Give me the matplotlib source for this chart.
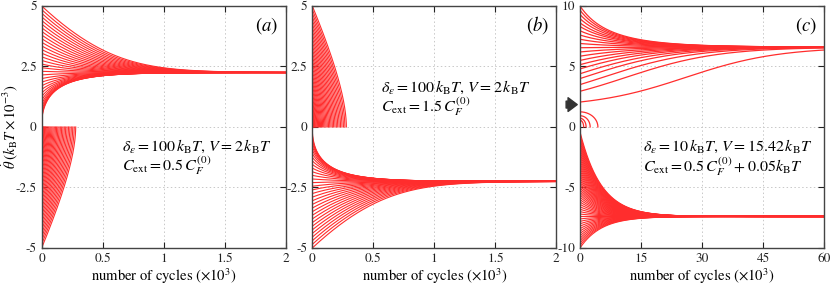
import numpy as np
import matplotlib.pyplot as plt

plt.rcParams['font.family'] = 'STIXGeneral'
plt.rcParams['mathtext.fontset'] = 'stix'
plt.rcParams['axes.unicode_minus'] = False

# starting values of theta-dot (x 1e-3 kBT)
ab_start_pos = [0.2, 0.35, 0.5, 0.65, 0.8, 0.95, 1.1, 1.25, 1.4, 1.55, 1.7,
                1.85, 2.0, 2.15, 2.3, 2.45, 2.6, 2.75, 2.9, 3.05, 3.2, 3.35,
                3.5, 3.65, 3.8, 3.95, 4.1, 4.25, 4.4, 4.55, 4.7, 4.85, 5.0]
ab_start_neg = [-0.2, -0.35, -0.5, -0.65, -0.8, -0.95, -1.1, -1.25, -1.4,
                -1.55, -1.7, -1.85, -2.0, -2.15, -2.3, -2.45, -2.6, -2.75,
                -2.9, -3.05, -3.2, -3.35, -3.5, -3.65, -3.8, -3.95, -4.1,
                -4.25, -4.4, -4.55, -4.7, -4.85, -5.0]
c_up_start = [2.06, 2.95, 3.5, 4.0, 4.4, 4.8, 5.15, 5.5, 5.85, 6.2, 6.55,
              6.9, 7.25, 7.6, 7.95, 8.3, 8.6, 8.95, 9.3, 9.65, 10.0]
c_drop_start = [1.25, 0.93, 0.72, 0.55]   # curves below the arrow
c_drop_end = [4.4, 2.5, 1.5, 0.9]         # cycles (x1e3) where they hit 0
c_low_start = [-0.4, -0.6, -0.8, -1.0, -1.2, -1.4, -1.6, -1.8, -2.0, -2.2,
               -2.4, -2.6, -2.8, -3.0, -3.2, -3.4, -3.6, -3.8, -4.0, -4.2,
               -4.4, -4.6, -4.8, -5.0, -5.2, -5.4, -5.6, -5.8, -6.0, -6.2,
               -6.4, -6.6, -6.8, -7.0, -7.2, -7.4, -7.6, -7.8, -8.0, -8.2,
               -8.4, -8.6, -8.8, -9.0, -9.2, -9.4, -9.6, -9.8, -10.0]

# steady states / rates
ab_steady = 2.25
ab_k = 8.5
c_up_steady, c_threshold, c_up_rate = 6.6, 1.6, 0.088
c_low_steady, c_low_rate = -7.4, 0.19

RED = '#ff2d2d'


def evolve(v0, rate, t_max, n=8000):
    # simple Euler stepping, a curve stops once it reaches zero
    v0 = np.asarray(v0, float)
    t = np.linspace(0, t_max, n)
    dt = t[1] - t[0]
    v = np.full((n, len(v0)), np.nan)
    v[0] = v0
    cur = v0.copy()
    with np.errstate(all='ignore'):
        for i in range(1, n):
            nxt = cur + dt * rate(cur)
            hit = np.sign(nxt) != np.sign(v0)
            nxt[hit & ~np.isnan(cur)] = 0.0
            v[i] = nxt
            nxt[hit] = np.nan
            cur = nxt
    return t, v


def style(ax, xmax, xticks, xlabels, ymax, yticks, ylabels):
    ax.set_xlim(0, xmax)
    ax.set_ylim(-ymax, ymax)
    ax.set_xticks(xticks)
    ax.set_xticklabels(xlabels)
    ax.set_yticks(yticks)
    ax.set_yticklabels(ylabels)
    ax.tick_params(direction='in', top=True, right=True, length=4,
                   labelsize=9.5, colors='#222222', pad=3.5)
    ax.grid(True, color='#c8c8c8', linestyle=(0, (1.5, 2.5)), linewidth=0.7)
    for s in ax.spines.values():
        s.set_color('#444444')
        s.set_linewidth(1.0)
    ax.set_xlabel(r'number of cycles ($\times 10^3$)', fontsize=10.5, labelpad=1)


fig = plt.figure(figsize=(8.3, 2.85), dpi=100)
ax_a = fig.add_axes([0.0502, 0.13, 0.294, 0.849])
ax_b = fig.add_axes([0.3763, 0.13, 0.294, 0.849])
ax_c = fig.add_axes([0.6988, 0.13, 0.294, 0.849])

# panel (a)
rate_a = lambda v: ab_k * (ab_steady - v) / np.abs(v)
t, v = evolve(ab_start_pos, rate_a, 2.0)
ax_a.plot(t, v, color=RED, lw=0.8)
t, v = evolve(ab_start_neg, rate_a, 2.0)
ax_a.plot(t, v, color=RED, lw=0.8)

# panel (b)
rate_b = lambda v: ab_k * (-ab_steady - v) / np.abs(v)
t, v = evolve(ab_start_pos, rate_b, 2.0)
ax_b.plot(t, v, color=RED, lw=0.8)
t, v = evolve(ab_start_neg, rate_b, 2.0)
ax_b.plot(t, v, color=RED, lw=0.8)

# panel (c)
rate_c_up = lambda v: (c_up_rate * (v - c_threshold) * (c_up_steady - v)
                       / (c_up_steady - c_threshold))
t, v = evolve(c_up_start, rate_c_up, 60.0)
ax_c.plot(t, v, color=RED, lw=0.9)
rate_c_low = lambda v: c_low_rate * (c_low_steady - v)
t, v = evolve(c_low_start, rate_c_low, 60.0)
ax_c.plot(t, v, color=RED, lw=0.8)
for v0, t_end in zip(c_drop_start, c_drop_end):
    tt = np.linspace(0, t_end, 200)
    ax_c.plot(tt, v0 * np.sqrt(1 - (tt / t_end) ** 2), color=RED, lw=0.9)

style(ax_a, 2, [0, 0.5, 1, 1.5, 2], ['0', '0.5', '1', '1.5', '2'],
      5, [-5, -2.5, 0, 2.5, 5], ['-5', '-2.5', '0', '2.5', '5'])
style(ax_b, 2, [0, 0.5, 1, 1.5, 2], ['0', '0.5', '1', '1.5', '2'],
      5, [-5, -2.5, 0, 2.5, 5], ['-5', '-2.5', '0', '2.5', '5'])
style(ax_c, 60, [0, 15, 30, 45, 60], ['0', '15', '30', '45', '60'],
      10, [-10, -5, 0, 5, 10], ['-10', '-5', '0', '5', '10'])

ax_a.set_ylabel(r'$\dot{\theta}\;(k_{\rm B}T \times 10^{-3})$', fontsize=10.5)
ax_a.yaxis.set_label_coords(-0.09, 0.5)

for ax, lab in [(ax_a, 'a'), (ax_b, 'b'), (ax_c, 'c')]:
    ax.text(0.97, 0.92, r'$(%s)$' % lab, transform=ax.transAxes,
            ha='right', va='center', fontsize=13.5)

ax_a.text(0.33, 0.42, r'$\delta_\epsilon = 100\,k_{\rm B}T$, $V = 2\,k_{\rm B}T$',
          transform=ax_a.transAxes, fontsize=11.5, va='center')
ax_a.text(0.33, 0.34, r'$C_{\rm ext} = 0.5\,C_F^{(0)}$',
          transform=ax_a.transAxes, fontsize=11.5, va='center')
ax_b.text(0.28, 0.665, r'$\delta_\epsilon = 100\,k_{\rm B}T$, $V = 2\,k_{\rm B}T$',
          transform=ax_b.transAxes, fontsize=11.5, va='center')
ax_b.text(0.28, 0.585, r'$C_{\rm ext} = 1.5\,C_F^{(0)}$',
          transform=ax_b.transAxes, fontsize=11.5, va='center')
ax_c.text(0.26, 0.42, r'$\delta_\epsilon = 10\,k_{\rm B}T$, $V = 15.42\,k_{\rm B}T$',
          transform=ax_c.transAxes, fontsize=11.5, va='center')
ax_c.text(0.26, 0.335, r'$C_{\rm ext} = 0.5\,C_F^{(0)} + 0.05 k_{\rm B}T$',
          transform=ax_c.transAxes, fontsize=11.5, va='center')

# arrow marking the unstable starting point in (c)
ax_c.annotate('', xy=(0, 1.85), xycoords=('axes fraction', 'data'),
              xytext=(-12, 0), textcoords='offset points',
              arrowprops=dict(arrowstyle='simple,head_width=0.9,head_length=0.6,tail_width=0.45',
                              fc='#333333', ec='#333333', mutation_scale=11),
              annotation_clip=False)

fig.savefig('out.png', dpi=100)
